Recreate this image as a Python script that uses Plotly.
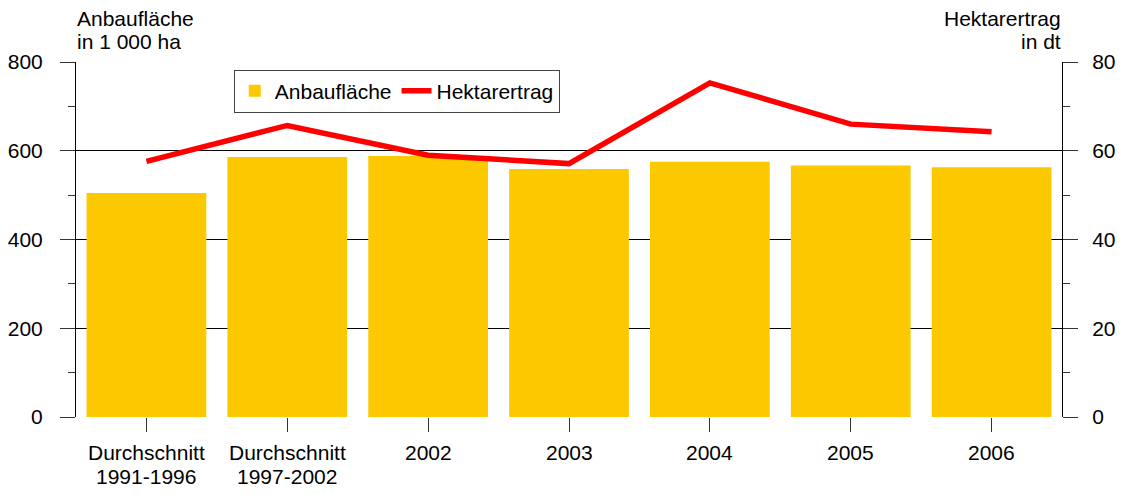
import plotly.graph_objects as go

# data
categories = ["Durchschnitt<br>1991-1996", "Durchschnitt<br>1997-2002",
              "2002", "2003", "2004", "2005", "2006"]
anbauflaeche = [505, 586, 588, 559, 575, 567, 563]   # in 1 000 ha
hektarertrag = [57.6, 65.7, 59.0, 57.1, 75.3, 66.0, 64.3]  # in dt

FONT = "Liberation Sans, Arial, sans-serif"
BAR_COLOR = "#FCC800"
LINE_COLOR = "#FF0000"

fig = go.Figure()

fig.add_trace(go.Bar(
    x=categories, y=anbauflaeche, name="Anbaufläche",
    marker=dict(color=BAR_COLOR, line=dict(width=0)),
    yaxis="y",
))
fig.add_trace(go.Scatter(
    x=categories, y=hektarertrag, name="Hektarertrag",
    mode="lines", line=dict(color=LINE_COLOR, width=5.5),
    yaxis="y2",
))

# page body has an 8px margin: shrink the figure so no scrollbars appear
fig.update_layout(
    width=1107, height=479,
    margin=dict(l=68, r=53, t=54, b=70, autoexpand=False),
    paper_bgcolor="white", plot_bgcolor="white",
    font=dict(family=FONT, size=21, color="black"),
    bargap=0.15,
    showlegend=True,
    legend=dict(
        orientation="h", x=0.16, y=0.918, xanchor="left", yanchor="middle",
        bordercolor="#444", borderwidth=1, bgcolor="white",
        font=dict(size=21), tracegroupgap=0,
    ),
    xaxis=dict(
        type="category",
        showgrid=False, showline=False, zeroline=False,
        ticks="outside", ticklen=14, tickcolor="#333", tickwidth=1,
        showticklabels=False,
    ),
    yaxis=dict(
        range=[0, 800], dtick=200, showgrid=True, gridcolor="black", gridwidth=1,
        zeroline=False, showline=True, linecolor="black", linewidth=1,
        ticks="outside", ticklen=15, tickcolor="#333",
        ticklabelstandoff=13,
        minor=dict(dtick=100, ticks="outside", ticklen=7, tickcolor="#333", showgrid=False),
        tickfont=dict(size=21),
    ),
    yaxis2=dict(
        range=[0, 80], dtick=20, overlaying="y", side="right", showgrid=False,
        zeroline=False, showline=True, linecolor="black", linewidth=1,
        ticks="outside", ticklen=15, tickcolor="#333",
        ticklabelstandoff=10,
        minor=dict(dtick=10, ticks="outside", ticklen=7, tickcolor="#333"),
        tickfont=dict(size=21),
    ),
)

# category labels, one annotation per line for tighter line spacing
# (x given as category index so "2002" is not read as a number)
line_y = [-0.101, -0.167]
for idx, cat in enumerate(categories):
    for i, part in enumerate(cat.split("<br>")):
        fig.add_annotation(
            text=part, xref="x", yref="paper", x=idx, y=line_y[i],
            xanchor="center", yanchor="middle", showarrow=False,
            font=dict(size=21), borderpad=0,
        )

# axis titles
titles = [
    ("Anbaufläche", 0, "left", 1.122),
    ("in 1 000 ha", 0, "left", 1.058),
    ("Hektarertrag", 1, "right", 1.122),
    ("in dt", 1, "right", 1.058),
]
for text, xpos, anchor, ypos in titles:
    fig.add_annotation(
        text=text, xref="paper", yref="paper", x=xpos, y=ypos,
        xanchor=anchor, yanchor="middle", showarrow=False,
        font=dict(size=21), borderpad=0,
    )

fig.write_html("out.html")
